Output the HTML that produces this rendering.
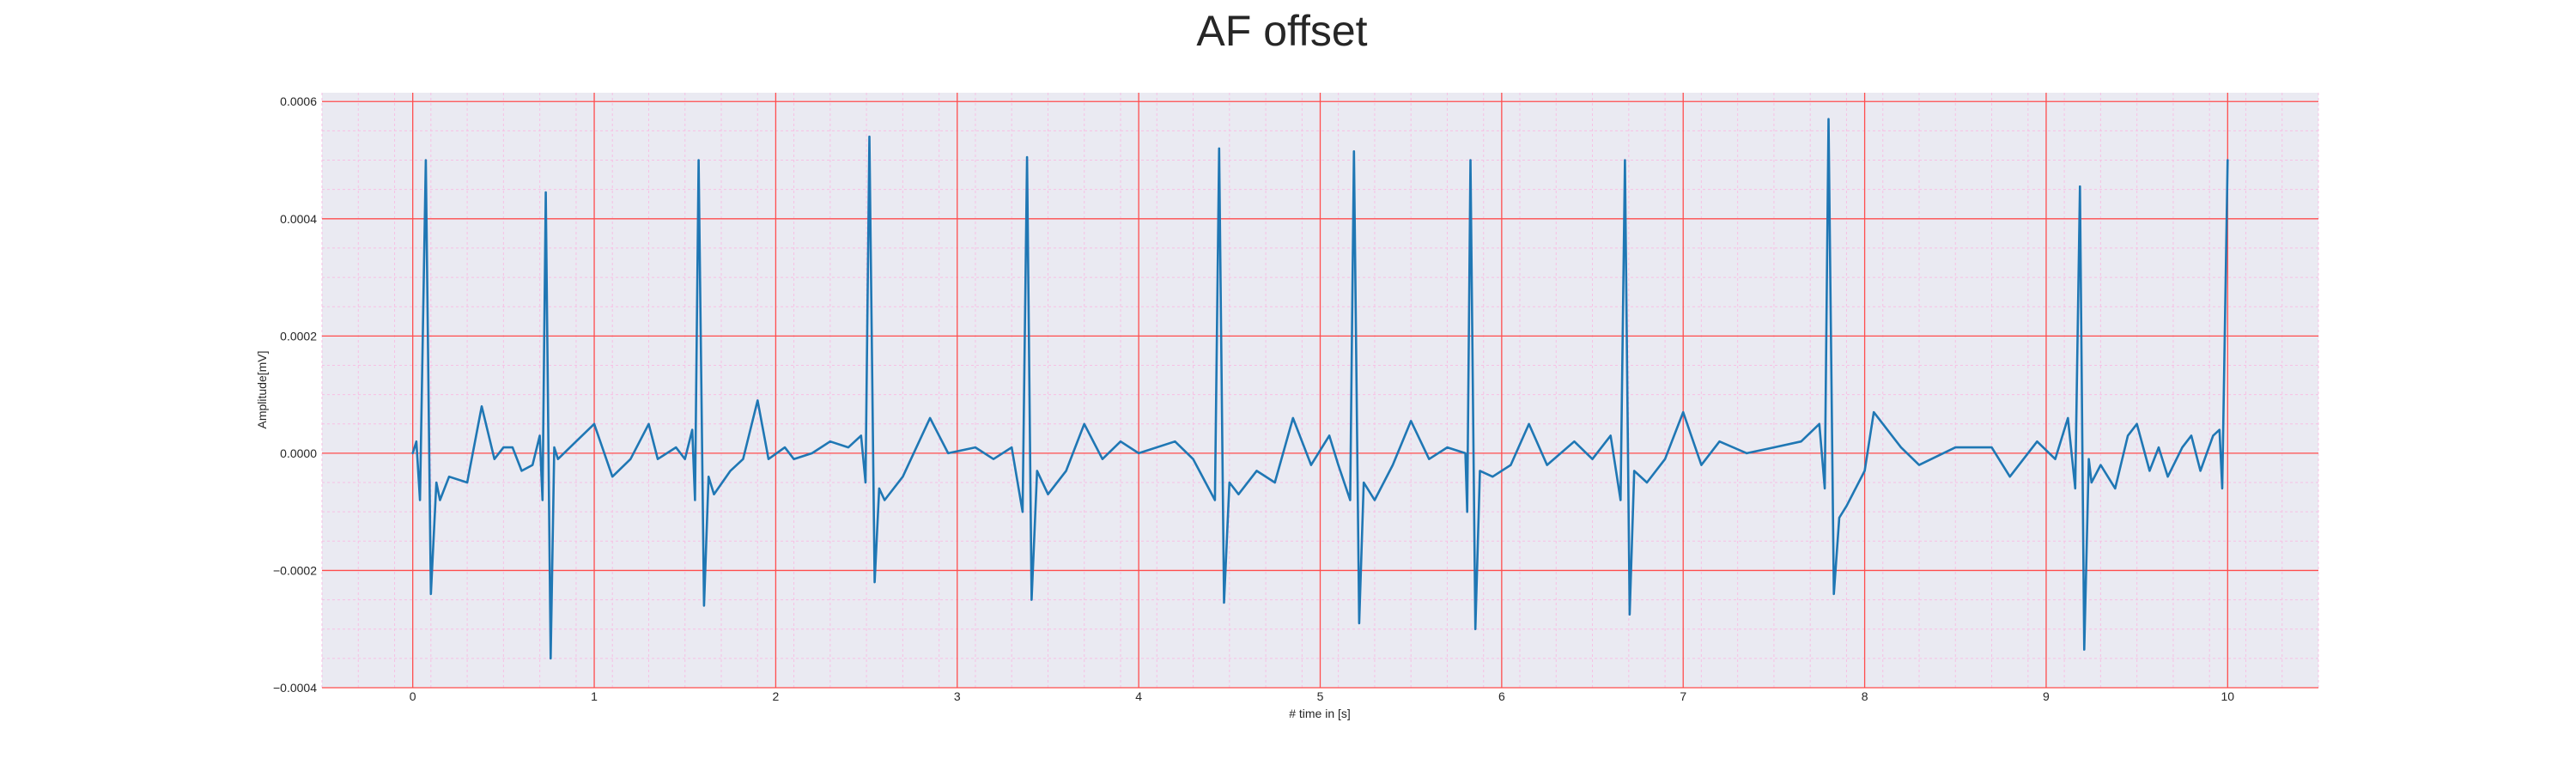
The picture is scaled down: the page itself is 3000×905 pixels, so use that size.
<!DOCTYPE html>
<html><head><meta charset="utf-8"><style>
html,body{margin:0;padding:0;background:#fff;}
svg text{font-family:"Liberation Sans",sans-serif;fill:#262626;}
</style></head><body>
<svg id="chart" width="3000" height="900" viewBox="0 0 3000 900" xmlns="http://www.w3.org/2000/svg">
<text x="1493" y="53" font-size="50" text-anchor="middle">AF offset</text>
<rect x="375" y="108" width="2325" height="693" fill="#eaeaf2"/>
<g id="grid"></g>
<g id="series"></g>
<g id="axes"></g>
<text x="1537" y="836" font-size="14" text-anchor="middle"># time in [s]</text>
<text x="0" y="0" font-size="14" text-anchor="middle" transform="translate(310,454) rotate(-90)">Amplitude[mV]</text>
</svg>
<script>
const xTicks = [0,1,2,3,4,5,6,7,8,9,10];
const yTicks = [-0.0004,-0.0002,0,0.0002,0.0004,0.0006];
const yTickLabels = ["\u22120.0004","\u22120.0002","0.0000","0.0002","0.0004","0.0006"];
const times = [0,0.02,0.04,0.072,0.1,0.13,0.15,0.2,0.3,0.38,0.45,0.5,0.55,0.6,0.66,0.7,0.715,0.733,0.76,0.78,0.8,0.9,1.0,1.1,1.2,1.3,1.35,1.45,1.5,1.54,1.555,1.575,1.605,1.63,1.66,1.75,1.82,1.9,1.96,2.05,2.1,2.2,2.3,2.4,2.47,2.495,2.516,2.545,2.57,2.6,2.7,2.85,2.95,3.1,3.2,3.3,3.36,3.385,3.41,3.44,3.5,3.6,3.7,3.8,3.9,4.0,4.2,4.3,4.42,4.443,4.47,4.5,4.55,4.65,4.75,4.85,4.95,5.05,5.1,5.165,5.186,5.215,5.24,5.3,5.4,5.5,5.6,5.7,5.8,5.81,5.828,5.855,5.88,5.95,6.05,6.15,6.25,6.4,6.5,6.6,6.655,6.679,6.705,6.73,6.8,6.9,7.0,7.1,7.2,7.35,7.5,7.65,7.75,7.78,7.801,7.83,7.86,7.9,8.0,8.05,8.2,8.3,8.5,8.7,8.8,8.95,9.05,9.12,9.16,9.186,9.21,9.235,9.25,9.3,9.38,9.45,9.5,9.57,9.62,9.67,9.75,9.8,9.85,9.92,9.955,9.97,10.0];
const amps = [0,0.2,-0.8,5.0,-2.4,-0.5,-0.8,-0.4,-0.5,0.8,-0.1,0.1,0.1,-0.3,-0.2,0.3,-0.8,4.45,-3.5,0.1,-0.1,0.2,0.5,-0.4,-0.1,0.5,-0.1,0.1,-0.1,0.4,-0.8,5.0,-2.6,-0.4,-0.7,-0.3,-0.1,0.9,-0.1,0.1,-0.1,0.0,0.2,0.1,0.3,-0.5,5.4,-2.2,-0.6,-0.8,-0.4,0.6,0.0,0.1,-0.1,0.1,-1.0,5.05,-2.5,-0.3,-0.7,-0.3,0.5,-0.1,0.2,0.0,0.2,-0.1,-0.8,5.2,-2.55,-0.5,-0.7,-0.3,-0.5,0.6,-0.2,0.3,-0.2,-0.8,5.15,-2.9,-0.5,-0.8,-0.2,0.55,-0.1,0.1,0.0,-1.0,5.0,-3.0,-0.3,-0.4,-0.2,0.5,-0.2,0.2,-0.1,0.3,-0.8,5.0,-2.75,-0.3,-0.5,-0.1,0.7,-0.2,0.2,0.0,0.1,0.2,0.5,-0.6,5.7,-2.4,-1.1,-0.9,-0.3,0.7,0.1,-0.2,0.1,0.1,-0.4,0.2,-0.1,0.6,-0.6,4.55,-3.35,-0.1,-0.5,-0.2,-0.6,0.3,0.5,-0.3,0.1,-0.4,0.1,0.3,-0.3,0.3,0.4,-0.6,5.0];
const ampScale = 1e-4;

const X0=375,X1=2700,Y0=108,Y1=801,XMIN=-0.5,XMAX=10.5,YMIN=-0.0004,YMAX=0.000615;
const ns="http://www.w3.org/2000/svg";
function sx(t){return X0+(t-XMIN)/(XMAX-XMIN)*(X1-X0);}
function sy(v){return Y1-(v-YMIN)/(YMAX-YMIN)*(Y1-Y0);}
function mk(tag,attrs,parent){const e=document.createElementNS(ns,tag);for(const k in attrs)e.setAttribute(k,attrs[k]);parent.appendChild(e);return e;}
const grid=document.getElementById('grid'),axes=document.getElementById('axes'),series=document.getElementById('series');
for(let i=-5;i<=105;i+=2){const t=i/10;if(i%10===0)continue;const x=sx(t);
 const l=mk('line',{x1:x,x2:x,y1:Y0,y2:Y1,stroke:'#f7c0e4','stroke-width':1,'stroke-dasharray':'3,3'},grid);
 
 }
for(let i=-8;i<=12;i++){const v=i*0.00005;if(i%4===0)continue;const y=sy(v);if(y<Y0)continue;
 const l=mk('line',{x1:X0,x2:X1,y1:y,y2:y,stroke:'#f7c0e4','stroke-width':1,'stroke-dasharray':'3,3'},grid);
 
 }
xTicks.forEach(t=>{const x=sx(t);
 const l=mk('line',{x1:x,x2:x,y1:Y0,y2:Y1,stroke:'#ff4d4d','stroke-width':1.3},grid);
 
 
 const tx=mk('text',{x:x,y:Y1+15,'font-size':14,'text-anchor':'middle'},axes);tx.textContent=String(t);
 
 });
yTicks.forEach((v,i)=>{const y=sy(v);
 const l=mk('line',{x1:X0,x2:X1,y1:y,y2:y,stroke:'#ff4d4d','stroke-width':1.3},grid);
 
 
 const tx=mk('text',{x:X0-6,y:y+5,'font-size':14,'text-anchor':'end'},axes);tx.textContent=yTickLabels[i];
 
 });
const pts=times.map((t,i)=>sx(t).toFixed(1)+','+sy(amps[i]*ampScale).toFixed(1)).join(' ');
const pl=mk('polyline',{points:pts,fill:'none',stroke:'#1f77b4','stroke-width':2.6,'stroke-linejoin':'round','stroke-linecap':'round'},series);


</script>
</body></html>
